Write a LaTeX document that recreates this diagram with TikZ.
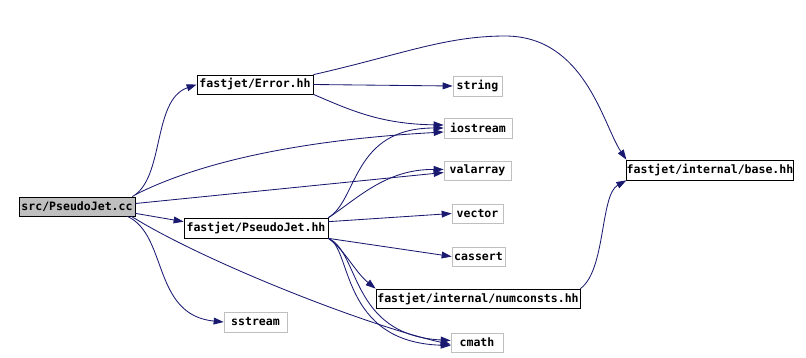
\documentclass[tikz,border=0pt]{standalone}
\usepackage{fontspec}
\setmonofont{DejaVu Sans Mono}
\usetikzlibrary{arrows.meta,calc}
\definecolor{DoxEdge}{HTML}{191970}
\definecolor{DoxGrey}{HTML}{BFBFBF}
\tikzset{>={Triangle[length=2.5mm,width=1.7mm]}}
\tikzset{
  FileBox/.style 2 args={
    draw, inner sep=0pt, line width=0.5pt,
    minimum width=#1*0.025cm, minimum height=#2*0.025cm,
    font=\ttfamily\bfseries\fontsize{8.2}{10}\selectfont
  },
  SysBox/.style 2 args={FileBox={#1}{#2}, draw=DoxGrey},
  IncEdge/.style={DoxEdge, line width=0.6pt, ->}
}

\begin{document}
\begin{tikzpicture}[x=0.025cm,y=-0.025cm]
    \path[use as bounding box] (0,0) rectangle (806,357);
    % files of the project
    \node[FileBox={116}{19}, fill=DoxGrey] (cc) at (77,206.5) {src/PseudoJet.cc};
    \node[FileBox={116}{19}] (err) at (255,84.5) {fastjet/Error.hh};
    \node[FileBox={144}{20}] (pjh) at (256,228) {fastjet/PseudoJet.hh};
    \node[FileBox={204}{19}] (numc) at (478,298.5) {fastjet/internal/numconsts.hh};
    \node[FileBox={164}{20}] (base) at (710,170) {fastjet/internal/base.hh};
    % system headers
    \node[SysBox={49}{20}] (string) at (477.5,86) {string};
    \node[SysBox={68}{20}] (iostream) at (478,128) {iostream};
    \node[SysBox={67}{19}] (valarray) at (477.5,170.5) {valarray};
    \node[SysBox={51}{19}] (vector) at (477.5,213.5) {vector};
    \node[SysBox={53}{19}] (cassert) at (478.5,256.5) {cassert};
    \node[SysBox={63}{20}] (sstream) at (255.5,322) {sstream};
    \node[SysBox={52}{19}] (cmath) at (477,342.5) {cmath};

    % includes of src/PseudoJet.cc
    \draw[IncEdge] ($(cc.north east)+(-3,0)$) .. controls (165,178) and (152,100) .. (err.west);
    \draw[IncEdge] ($(cc.north east)+(0,-2)$) .. controls (200,162) and (300,140) .. ($(iostream.west)+(0,4)$);
    \draw[IncEdge] ($(cc.east)+(0,-3)$) -- ($(valarray.west)+(0,2)$);
    \draw[IncEdge] ($(cc.south east)+(0,-3)$) -- ($(pjh.north west)+(0,4)$);
    \draw[IncEdge] ($(cc.south east)+(-8,0)$) .. controls (168,235) and (152,315) .. (sstream.west);
    \draw[IncEdge] ($(cc.south east)+(-4,0)$) .. controls (205,262) and (365,325) .. ($(cmath.west)+(0,2)$);

    % includes of fastjet/Error.hh
    \draw[IncEdge] (err.east) -- (string.west);
    \draw[IncEdge] (err.south east) .. controls (350,110) and (380,124) .. ($(iostream.west)+(0,-3)$);
    \draw[IncEdge] (err.north east) .. controls (400,55) and (445,36) .. (505,36)
        .. controls (585,36) and (603,125) .. (base.north west);

    % includes of fastjet/PseudoJet.hh
    \draw[IncEdge] (pjh.north east) .. controls (358,200) and (352,128) .. (iostream.west);
    \draw[IncEdge] (pjh.north east) .. controls (356,200) and (385,169) .. ($(valarray.west)+(0,-1)$);
    \draw[IncEdge] ($(pjh.north east)+(0,4)$) -- (vector.west);
    \draw[IncEdge] (pjh.south east) -- (cassert.west);
    \draw[IncEdge] (pjh.south east) .. controls (345,250) and (355,272) .. (numc.north west);
    \draw[IncEdge] (pjh.south east) .. controls (360,252) and (350,335) .. ($(cmath.west)+(0,-2)$);
    \draw[IncEdge] (pjh.south east) .. controls (352,248) and (340,342) .. ($(cmath.west)+(0,3)$);

    % includes of fastjet/internal/numconsts.hh
    \draw[IncEdge] (numc.north east) .. controls (606,270) and (600,195) .. (base.south west);
\end{tikzpicture}
\end{document}
